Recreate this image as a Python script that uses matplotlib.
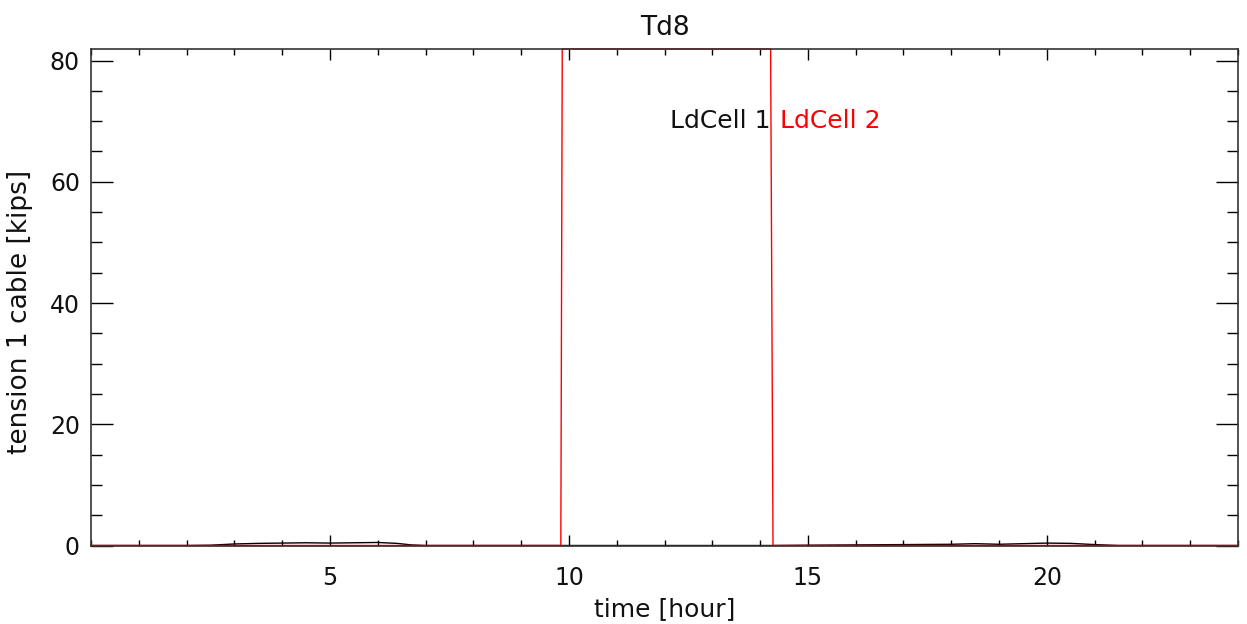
import numpy as np
import matplotlib.pyplot as plt
from matplotlib.ticker import MultipleLocator, FixedLocator

# LdCell 1 (black) - tension in kips vs time in hours
t1 = [0, 2.0, 2.5, 3.0, 3.5, 4.0, 4.5, 5.0, 5.5, 6.0, 6.4, 6.7, 7.0, 9.85,
      14.24, 15.0, 16.0, 17.0, 18.0, 18.5, 19.0, 19.5, 20.0, 20.5, 21.0, 21.5, 24.0]
v1 = [0, 0, 0.05, 0.25, 0.35, 0.4, 0.45, 0.4, 0.45, 0.5, 0.35, 0.1, 0, 0,
      0, 0.05, 0.1, 0.15, 0.2, 0.3, 0.2, 0.3, 0.4, 0.35, 0.15, 0, 0]

# LdCell 2 (red)
t2 = [0, 9.83, 9.86, 14.22, 14.27, 24.0]
v2 = [0, 0, 81.9, 81.9, 0, 0]

xticks = [5, 10, 15, 20]
title = "Td8"
xlabel = "time [hour]"
ylabel = "tension 1 cable [kips]"
labels = ["LdCell 1", "LdCell 2"]

plt.rcParams['font.family'] = ['DejaVu Sans']

fig = plt.figure(figsize=(12.47, 6.24), dpi=100)
ax = fig.add_axes([0.073, 0.1258, 0.9198, 0.7957])

ax.plot(t1, v1, color='black', linewidth=1.0)
ax.plot(t2, v2, color='red', linewidth=1.0, clip_on=False)

ax.set_xlim(0, 24)
ax.set_ylim(0, 81.9)

ax.xaxis.set_major_locator(FixedLocator(xticks))
ax.xaxis.set_minor_locator(MultipleLocator(1))
ax.yaxis.set_major_locator(MultipleLocator(20))
ax.yaxis.set_minor_locator(MultipleLocator(5))

ax.tick_params(axis='both', which='both', direction='in', top=True, right=True,
               width=1.0, color='black', labelsize=17, labelcolor='#111111')
ax.tick_params(axis='x', which='major', length=8, pad=15)
ax.tick_params(axis='x', which='minor', length=4)
ax.tick_params(axis='y', which='major', length=16, pad=8)
ax.tick_params(axis='y', which='minor', length=8)

for s in ax.spines.values():
    s.set_linewidth(1.2)
    s.set_color('#333333')

ax.set_title(title, fontsize=19, pad=10, color='#111111')
ax.set_xlabel(xlabel, fontsize=18, labelpad=5, color='#111111')
ax.set_ylabel(ylabel, fontsize=19, color='#111111', va='center')
ax.yaxis.set_label_coords(-0.062, 0.47)

ax.text(14.21, 70, labels[0], color='#111111', fontsize=18, ha='right', va='center')
ax.text(14.42, 70, labels[1], color='red', fontsize=18, ha='left', va='center')

fig.savefig('out.png', dpi=100)
